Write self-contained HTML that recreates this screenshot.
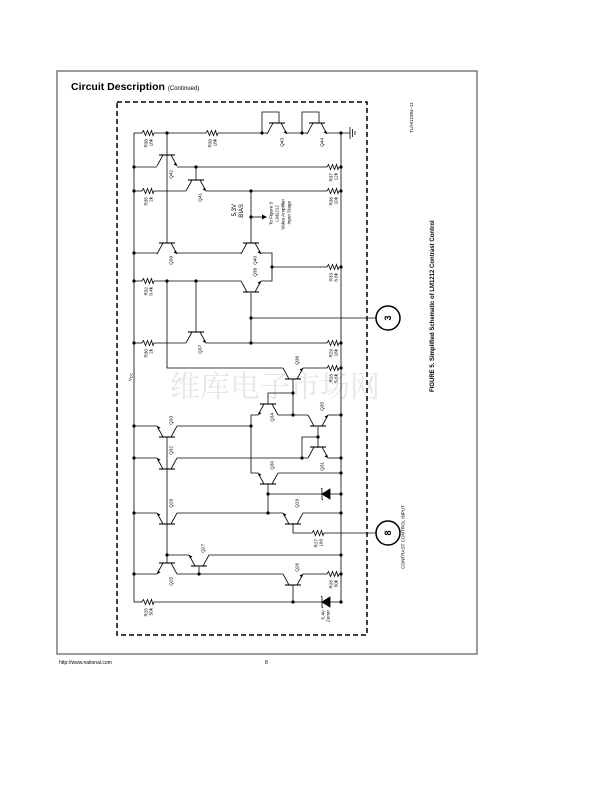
<!DOCTYPE html>
<html><head><meta charset="utf-8"><style>
html,body{margin:0;padding:0;background:#fff;}
svg{display:block;}
text{font-family:"Liberation Sans",sans-serif;fill:#000;}
.l text{text-anchor:end;}
</style></head><body>
<svg width="612" height="792" viewBox="0 0 612 792" xmlns="http://www.w3.org/2000/svg">
<defs>
<g id="res"><polyline points="-6,0 -4.5,-2.5 -2.5,2.5 -0.5,-2.5 1.5,2.5 3.5,-2.5 5,2.5 6,0" fill="none" stroke="#000" stroke-width="0.8"/></g>
<g id="tr"><line x1="-8" y1="0" x2="8" y2="0" stroke="#000" stroke-width="1.1"/><polyline points="-4,0 -10,11" fill="none" stroke="#000" stroke-width="0.8"/><polyline points="4,0 10,11" fill="none" stroke="#000" stroke-width="0.8"/><polygon points="10,11 6.5,9.5 9,7.5" fill="#000"/></g>
<g id="dot"><circle r="1.6" fill="#000"/></g>
</defs>
<rect x="57" y="71" width="420" height="583" fill="none" stroke="#666" stroke-width="1.3"/>
<text x="71" y="90" font-size="10.5" font-weight="bold">Circuit Description <tspan font-size="6" font-weight="normal">(Continued)</tspan></text>
<text x="59" y="664" font-size="5">http://www.national.com</text>
<text x="265" y="664" font-size="5">8</text>
<text transform="translate(413,133) rotate(-90)" font-size="4.5" fill="#333">TL/H/12384–11</text>
<text transform="translate(434,392) rotate(-90)" font-size="6" font-weight="bold">FIGURE 5. Simplified Schematic of LM1212 Contrast Control</text>
<text x="170" y="397" font-size="30" style="font-family:'Noto Serif CJK SC',serif;fill:#e6e6e6">维库电子市场网</text>
<rect x="117" y="102" width="250" height="533" fill="none" stroke="#000" stroke-width="1.5" stroke-dasharray="5,3"/>
<g stroke="#000" stroke-width="0.8" fill="none">
<line x1="134" y1="133" x2="134" y2="602"/>
<line x1="341" y1="133" x2="341" y2="602"/>
<line x1="134" y1="133" x2="142" y2="133"/><line x1="154" y1="133" x2="206" y2="133"/><line x1="218" y1="133" x2="267" y2="133"/>
<line x1="287" y1="133" x2="307" y2="133"/><line x1="327" y1="133" x2="350" y2="133"/>
<polyline points="262,133 262,112 279,112 279,123"/><polyline points="302,133 302,112 319,112 319,123"/>
<line x1="350" y1="127" x2="350" y2="139"/><line x1="352.5" y1="129" x2="352.5" y2="137"/><line x1="355" y1="131" x2="355" y2="135"/>
<line x1="134" y1="167" x2="157" y2="167"/><line x1="177" y1="167" x2="327" y2="167"/>
<line x1="134" y1="191" x2="142" y2="191"/><line x1="154" y1="191" x2="186" y2="191"/><line x1="206" y1="191" x2="327" y2="191"/>
<line x1="134" y1="253" x2="157" y2="253"/><line x1="177" y1="253" x2="241" y2="253"/><polyline points="261,253 272,253 272,281 261,281"/>
<line x1="272" y1="267" x2="327" y2="267"/>
<line x1="134" y1="281" x2="142" y2="281"/><line x1="154" y1="281" x2="241" y2="281"/>
<line x1="251" y1="318" x2="376" y2="318"/>
<line x1="134" y1="343" x2="142" y2="343"/><line x1="154" y1="343" x2="186" y2="343"/><line x1="206" y1="343" x2="327" y2="343"/>
<line x1="167" y1="133" x2="167" y2="243"/>
<polyline points="167,281 167,368 283,368"/>
<line x1="196" y1="167" x2="196" y2="180"/><line x1="196" y1="281" x2="196" y2="332"/>
<line x1="251" y1="191" x2="251" y2="243"/><line x1="251" y1="293" x2="251" y2="343"/>
<line x1="251" y1="217" x2="262" y2="217"/>
<line x1="303" y1="368" x2="327" y2="368"/>
<line x1="293" y1="379" x2="293" y2="415"/>
<polyline points="268,404 268,393 293,393"/>
<polyline points="258,415 251,415 251,473 258,473"/>
<line x1="278" y1="415" x2="308" y2="415"/><line x1="328" y1="415" x2="341" y2="415"/>
<line x1="318" y1="427" x2="318" y2="448"/><polyline points="318,437 302,437 302,458"/>
<line x1="134" y1="458" x2="157" y2="458"/><line x1="177" y1="458" x2="308" y2="458"/><line x1="328" y1="458" x2="341" y2="458"/>
<line x1="134" y1="426" x2="157" y2="426"/><line x1="177" y1="426" x2="251" y2="426"/>
<line x1="278" y1="473" x2="341" y2="473"/>
<line x1="268" y1="484" x2="268" y2="513"/><line x1="268" y1="494" x2="341" y2="494"/>
<line x1="134" y1="513" x2="157" y2="513"/><line x1="177" y1="513" x2="283" y2="513"/><line x1="303" y1="513" x2="341" y2="513"/>
<polyline points="293,523 293,533 312,533"/><line x1="324" y1="533" x2="376" y2="533"/>
<line x1="167" y1="437" x2="167" y2="563"/>
<line x1="167" y1="555" x2="189" y2="555"/><line x1="209" y1="555" x2="341" y2="555"/>
<line x1="199" y1="567" x2="199" y2="574"/>
<line x1="134" y1="574" x2="157" y2="574"/><line x1="177" y1="574" x2="283" y2="574"/><line x1="303" y1="574" x2="327" y2="574"/>
<line x1="293" y1="585" x2="293" y2="602"/>
<line x1="134" y1="602" x2="142" y2="602"/><line x1="154" y1="602" x2="341" y2="602"/>
<circle cx="388" cy="318" r="12" stroke-width="1.5"/><circle cx="388" cy="533" r="12" stroke-width="1.5"/>
</g>
<polygon points="262,214.5 267,217 262,219.5" fill="#000"/>
<g fill="#000" stroke="#000" stroke-width="0.8"><polygon points="330,489 330,499 322,494"/><polyline points="321,488 322,489 322,499 323,500" fill="none"/>
<polygon points="330,597 330,607 322,602"/><polyline points="321,596 322,597 322,607 323,608" fill="none"/></g>
<use href="#res" x="148" y="133"/><use href="#res" x="212" y="133"/><use href="#res" x="333" y="167"/>
<use href="#res" x="148" y="191"/><use href="#res" x="333" y="191"/><use href="#res" x="333" y="267"/>
<use href="#res" x="148" y="281"/><use href="#res" x="148" y="343"/><use href="#res" x="333" y="343"/>
<use href="#res" x="333" y="368"/><use href="#res" x="318" y="533"/><use href="#res" x="333" y="574"/><use href="#res" x="148" y="602"/>
<use href="#tr" transform="translate(167,155)"/>
<use href="#tr" transform="translate(196,180)"/>
<use href="#tr" transform="translate(167,243)"/>
<use href="#tr" transform="translate(251,243)"/>
<use href="#tr" transform="translate(251,292) scale(1,-1)"/>
<use href="#tr" transform="translate(196,332)"/>
<use href="#tr" transform="translate(277,123)"/>
<use href="#tr" transform="translate(317,123)"/>
<use href="#tr" transform="translate(293,379) scale(1,-1)"/>
<use href="#tr" transform="translate(268,404) scale(-1,1)"/>
<use href="#tr" transform="translate(318,426) scale(1,-1)"/>
<use href="#tr" transform="translate(318,447)"/>
<use href="#tr" transform="translate(167,437) scale(-1,-1)"/>
<use href="#tr" transform="translate(167,469) scale(-1,-1)"/>
<use href="#tr" transform="translate(268,484) scale(-1,-1)"/>
<use href="#tr" transform="translate(167,524) scale(-1,-1)"/>
<use href="#tr" transform="translate(293,524) scale(-1,-1)"/>
<use href="#tr" transform="translate(199,566) scale(-1,-1)"/>
<use href="#tr" transform="translate(167,563) scale(-1,1)"/>
<use href="#tr" transform="translate(293,585) scale(1,-1)"/>
<g>
<use href="#dot" x="167" y="133"/><use href="#dot" x="262" y="133"/><use href="#dot" x="302" y="133"/><use href="#dot" x="341" y="133"/>
<use href="#dot" x="134" y="167"/><use href="#dot" x="196" y="167"/><use href="#dot" x="341" y="167"/>
<use href="#dot" x="134" y="191"/><use href="#dot" x="251" y="191"/><use href="#dot" x="341" y="191"/><use href="#dot" x="251" y="217"/>
<use href="#dot" x="134" y="253"/><use href="#dot" x="272" y="267"/><use href="#dot" x="341" y="267"/>
<use href="#dot" x="134" y="281"/><use href="#dot" x="167" y="281"/><use href="#dot" x="196" y="281"/>
<use href="#dot" x="251" y="318"/><use href="#dot" x="251" y="343"/><use href="#dot" x="134" y="343"/><use href="#dot" x="341" y="343"/>
<use href="#dot" x="341" y="368"/><use href="#dot" x="293" y="393"/><use href="#dot" x="293" y="415"/><use href="#dot" x="341" y="415"/>
<use href="#dot" x="134" y="426"/><use href="#dot" x="251" y="426"/><use href="#dot" x="318" y="437"/>
<use href="#dot" x="134" y="458"/><use href="#dot" x="302" y="458"/><use href="#dot" x="341" y="458"/><use href="#dot" x="341" y="473"/>
<use href="#dot" x="268" y="494"/><use href="#dot" x="341" y="494"/><use href="#dot" x="134" y="513"/><use href="#dot" x="268" y="513"/><use href="#dot" x="341" y="513"/>
<use href="#dot" x="167" y="555"/><use href="#dot" x="341" y="555"/><use href="#dot" x="134" y="574"/><use href="#dot" x="199" y="574"/><use href="#dot" x="341" y="574"/>
<use href="#dot" x="293" y="602"/><use href="#dot" x="341" y="602"/>
</g>
<g font-size="4.6" class="l">
<text transform="translate(147.5,139) rotate(-90)">R38</text><text transform="translate(152.5,139) rotate(-90)">18k</text>
<text transform="translate(211.5,139) rotate(-90)">R39</text><text transform="translate(216.5,139) rotate(-90)">18k</text>
<text transform="translate(147.5,197) rotate(-90)">R35</text><text transform="translate(152.5,197) rotate(-90)">2k</text>
<text transform="translate(147.5,287) rotate(-90)">R32</text><text transform="translate(152.5,287) rotate(-90)">9.4k</text>
<text transform="translate(147.5,349) rotate(-90)">R30</text><text transform="translate(152.5,349) rotate(-90)">2k</text>
<text transform="translate(147.5,608) rotate(-90)">R25</text><text transform="translate(152.5,608) rotate(-90)">50k</text>
<text transform="translate(332.5,173) rotate(-90)">R37</text><text transform="translate(337.5,173) rotate(-90)">12k</text>
<text transform="translate(332.5,197) rotate(-90)">R36</text><text transform="translate(337.5,197) rotate(-90)">10k</text>
<text transform="translate(332.5,273) rotate(-90)">R33</text><text transform="translate(337.5,273) rotate(-90)">8.8k</text>
<text transform="translate(332.5,349) rotate(-90)">R29</text><text transform="translate(337.5,349) rotate(-90)">18k</text>
<text transform="translate(332.5,374) rotate(-90)">R28</text><text transform="translate(337.5,374) rotate(-90)">5.6k</text>
<text transform="translate(332.5,580) rotate(-90)">R26</text><text transform="translate(337.5,580) rotate(-90)">50k</text>
<text transform="translate(317.5,539) rotate(-90)">R27</text><text transform="translate(322.5,539) rotate(-90)">100</text>
<text transform="translate(324.5,610) rotate(-90)">5.4V</text><text transform="translate(329.5,610) rotate(-90)">Zener</text>
<text transform="translate(283.5,138) rotate(-90)">Q43</text><text transform="translate(323.5,138) rotate(-90)">Q44</text>
<text transform="translate(172.5,170) rotate(-90)">Q42</text><text transform="translate(201.5,193) rotate(-90)">Q41</text>
<text transform="translate(172.5,256) rotate(-90)">Q39</text><text transform="translate(256.5,256) rotate(-90)">Q40</text>
<text transform="translate(256.5,268) rotate(-90)">Q38</text><text transform="translate(201.5,345) rotate(-90)">Q37</text>
<text transform="translate(298.5,356) rotate(-90)">Q36</text><text transform="translate(273.5,413) rotate(-90)">Q34</text>
<text transform="translate(323.5,402) rotate(-90)">Q35</text><text transform="translate(323.5,462) rotate(-90)">Q31</text>
<text transform="translate(172.5,416) rotate(-90)">Q33</text><text transform="translate(172.5,446) rotate(-90)">Q32</text>
<text transform="translate(273.5,461) rotate(-90)">Q30</text><text transform="translate(172.5,499) rotate(-90)">Q28</text>
<text transform="translate(298.5,499) rotate(-90)">Q29</text><text transform="translate(204.5,544) rotate(-90)">Q27</text>
<text transform="translate(172.5,577) rotate(-90)">Q25</text><text transform="translate(298.5,563) rotate(-90)">Q26</text>
<text transform="translate(131.5,373) rotate(-90)">V<tspan font-size="3.5" dy="1">CC</tspan></text>
<text transform="translate(236,204) rotate(-90)" font-size="6">5.3V</text><text transform="translate(243,204) rotate(-90)" font-size="6">BIAS</text>
<text transform="translate(272.5,202) rotate(-90)">To Figure 3</text><text transform="translate(278.5,205) rotate(-90)">LM1212</text>
<text transform="translate(284.5,199) rotate(-90)">Video Amplifier</text><text transform="translate(290.5,201) rotate(-90)">Input Stage</text>
<text transform="translate(404.5,505) rotate(-90)">CONTRAST CONTROL INPUT</text>
</g>
<text transform="translate(391,318) rotate(-90)" font-size="9" font-weight="bold" text-anchor="middle">3</text>
<text transform="translate(391,533) rotate(-90)" font-size="9" font-weight="bold" text-anchor="middle">8</text>
</svg>
</body></html>
